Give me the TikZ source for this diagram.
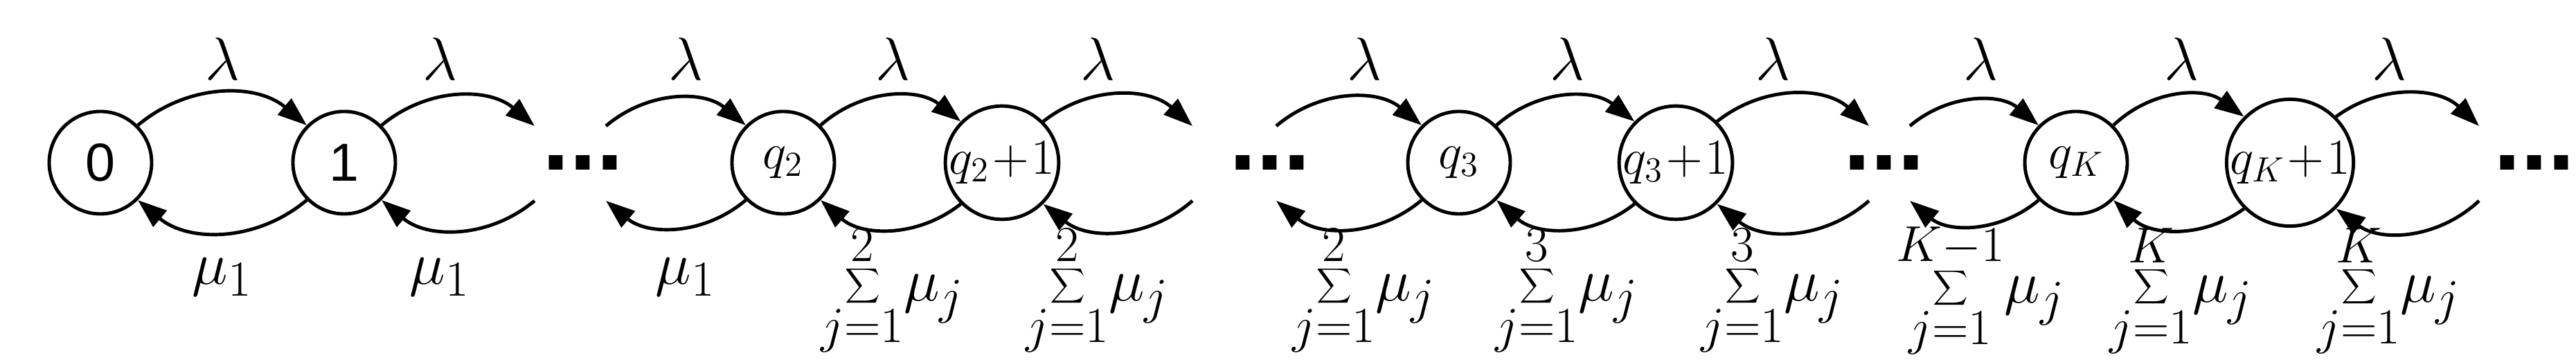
\documentclass[tikz,border=0pt]{standalone}
\usepackage{fontspec}
\setmainfont{Liberation Serif}
\newfontfamily\arialf{Liberation Sans}
\usetikzlibrary{arrows.meta}
\begin{document}
\begin{tikzpicture}[
  st/.style={circle,draw,line width=1.4pt,minimum size=1.48cm,inner sep=0pt,font=\fontsize{22}{26}\selectfont},
  ar/.style={line width=1.4pt,-{Triangle[length=0.42cm,width=0.3cm]}},
  lab/.style={font=\fontsize{30}{34}\selectfont},
  dots/.style={font=\fontsize{40}{40}\arialf\bfseries\selectfont,inner sep=0pt}]
\useasboundingbox (0,0) rectangle (37.2,5.2);
\def\y{2.85}
\node[st] (n0) at (1.45,\y) {\arialf 0};
\node[st] (n1) at (4.97,\y) {\arialf 1};
\node[st] (q2) at (11.31,\y) {$q_2$};
\node[st] (q2p) at (14.47,\y) {$q_2\!+\!1$};
\node[st] (q3) at (21.07,\y) {$q_3$};
\node[st] (q3p) at (24.20,\y) {$q_3\!+\!1$};
\node[st] (qk) at (29.98,\y) {$q_K$};
\node[st] (qkp) at (33.07,\y) {$q_K\!+\!1$};
\node[dots] (d1) at (8.42,\y) {...};
\node[dots] (d2) at (18.34,\y) {...};
\node[dots] (d3) at (27.21,\y) {...};
\node[dots] (d4) at (36.6,\y) {...};
% dangling ends
\coordinate (a1t) at (7.72,3.38); \coordinate (a1b) at (7.72,2.3);
\coordinate (b1t) at (8.75,3.38); \coordinate (b1b) at (8.75,2.3);
\coordinate (a2t) at (17.22,3.38); \coordinate (a2b) at (17.22,2.3);
\coordinate (b2t) at (18.43,3.38); \coordinate (b2b) at (18.43,2.3);
\coordinate (a3t) at (26.99,3.38); \coordinate (a3b) at (26.99,2.3);
\coordinate (b3t) at (27.58,3.38); \coordinate (b3b) at (27.58,2.3);
\coordinate (a4t) at (35.8,3.38); \coordinate (a4b) at (35.8,2.3);
% pairs
\foreach \a/\b in {n0/n1,q2/q2p,q3/q3p,qk/qkp}{
  \draw[ar] (\a.45) to[bend left=40] (\b.135);
  \draw[ar] (\b.-135) to[bend left=40] (\a.-45);
}
\foreach \a/\t/\bb in {n1/a1t/a1b,q2p/a2t/a2b,q3p/a3t/a3b,qkp/a4t/a4b}{
  \draw[ar] (\a.45) to[bend left=40] (\t);
  \draw[ar] (\bb) to[bend left=40] (\a.-45);
}
\foreach \t/\bb/\a in {b1t/b1b/q2,b2t/b2b/q3,b3t/b3b/qk}{
  \draw[ar] (\t) to[bend left=40] (\a.135);
  \draw[ar] (\a.-135) to[bend left=40] (\bb);
}
% lambda labels
\foreach \x in {3.21,6.35,9.9,12.89,15.85,19.7,22.63,25.6,28.6,31.5,34.5}
  \node[lab] (l\x) at (\x,4.35) {$\lambda$};
\foreach \x in {3.21,6.35,9.9}
  \node[lab] (m\x) at (\x,1.2) {$\mu_1$};
\foreach \x/\k in {12.89/2,15.85/2,19.7/2,22.63/3,25.6/3}
  \node[lab] (s\x) at (\x,1.0) {$\displaystyle\sum_{j=1}^{\k}\!\mu_j$};
\foreach \x/\k in {28.6/K-1,31.5/K,34.5/K}
  \node[lab] (s\x) at (\x,1.0) {$\displaystyle\sum_{j=1}^{\k}\!\mu_j$};
\end{tikzpicture}
\end{document}
